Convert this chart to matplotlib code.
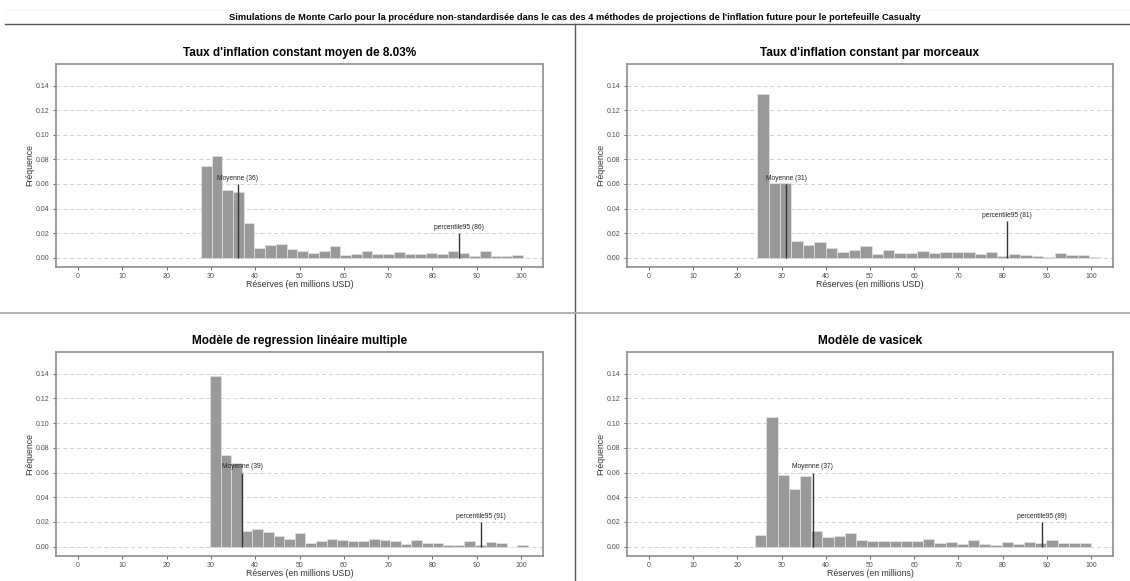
import matplotlib
matplotlib.use("Agg")
import matplotlib.pyplot as plt
import numpy as np
from matplotlib.lines import Line2D

plt.rcParams['font.family'] = ['Liberation Sans', 'DejaVu Sans']

suptitle = ("Simulations de Monte Carlo pour la procédure non-standardisée dans le cas des "
            "4 méthodes de projections de l'inflation future pour le portefeuille Casualty")

titles = ["Taux d'inflation constant moyen de 8.03%",
          "Taux d'inflation constant par morceaux",
          "Modèle de regression linéaire multiple",
          "Modèle de vasicek"]
xlabels = ["Réserves (en millions USD)", "Réserves (en millions USD)",
           "Réserves (en millions USD)", "Réserves (en millions)"]

# histogram bins: first edge, bin width, frequencies (30 bins each)
bin_start = [27.7, 24.45, 29.8, 24.0]
bin_width = [2.424, 2.59, 2.394, 2.536]

freq_const = [0.0743, 0.0830, 0.0553, 0.0534, 0.0282, 0.0081, 0.0106, 0.0114, 0.0071, 0.0054,
              0.0038, 0.0054, 0.0095, 0.0024, 0.0027, 0.0054, 0.0027, 0.0033, 0.0049, 0.0033,
              0.0033, 0.0038, 0.0033, 0.0054, 0.0038, 0.0011, 0.0054, 0.0014, 0.0016, 0.0022]
freq_morceaux = [0.1330, 0.0605, 0.0605, 0.0140, 0.0100, 0.0130, 0.0081, 0.0049, 0.0060, 0.0092,
                 0.0027, 0.0060, 0.0038, 0.0038, 0.0057, 0.0038, 0.0046, 0.0049, 0.0046, 0.0033,
                 0.0049, 0.0014, 0.0033, 0.0022, 0.0016, 0.0005, 0.0041, 0.0022, 0.0022, 0.0005]
freq_regression = [0.1380, 0.0740, 0.0680, 0.0130, 0.0145, 0.0120, 0.0090, 0.0065, 0.0110, 0.0030,
                   0.0050, 0.0060, 0.0055, 0.0050, 0.0045, 0.0065, 0.0055, 0.0045, 0.0020, 0.0055,
                   0.0030, 0.0030, 0.0015, 0.0010, 0.0050, 0.0010, 0.0035, 0.0030, 0.0000, 0.0015]
freq_vasicek = [0.0095, 0.1050, 0.0580, 0.0470, 0.0570, 0.0130, 0.0075, 0.0085, 0.0115, 0.0055,
                0.0050, 0.0045, 0.0050, 0.0045, 0.0045, 0.0060, 0.0030, 0.0035, 0.0020, 0.0055,
                0.0020, 0.0010, 0.0035, 0.0020, 0.0035, 0.0030, 0.0055, 0.0030, 0.0030, 0.0030]
freqs = [freq_const, freq_morceaux, freq_regression, freq_vasicek]

# mean / 95th percentile markers: x position, line height, label
mean_x = [36, 31, 37, 37]
mean_h = [0.06, 0.06, 0.06, 0.06]
mean_lab = ["Moyenne (36)", "Moyenne (31)", "Moyenne (39)", "Moyenne (37)"]
pct_x = [86, 81, 91, 89]
pct_h = [0.02, 0.03, 0.02, 0.02]
pct_lab = ["percentile95 (86)", "percentile95 (81)", "percentile95 (91)", "percentile95 (89)"]

W, H = 1130, 581
fig = plt.figure(figsize=(W / 100, H / 100), dpi=100)

# panel boxes in pixels: left, top, right, bottom
boxes = [(56, 64, 543, 267), (627, 64, 1113, 267),
         (56, 352, 543, 556), (627, 352, 1113, 556)]

for i in range(4):
    l, t, r, b = boxes[i]
    ax = fig.add_axes([l / W, 1 - b / H, (r - l) / W, (b - t) / H])
    edges = bin_start[i] + bin_width[i] * np.arange(len(freqs[i]))
    ax.bar(edges, freqs[i], width=bin_width[i], align='edge',
           color='#999999', edgecolor='#e4e4e4', linewidth=0.5, zorder=2)
    ax.set_xlim(-5, 105)
    ax.set_ylim(-0.0075, 0.1575)
    ax.set_xticks(np.arange(0, 101, 10))
    ax.set_yticks(np.arange(0, 0.141, 0.02))
    ax.set_yticklabels(["%.2f" % v for v in np.arange(0, 0.141, 0.02)])
    ax.grid(axis='y', color='#d0d0d0', linestyle=(0, (4, 3)), linewidth=0.7, zorder=0)
    ax.tick_params(labelsize=5.0, colors='#4d4d4d', length=2.5, width=0.6, pad=2)
    for s in ax.spines.values():
        s.set_color('#8c8c8c')
        s.set_linewidth(1.2)
    ax.set_title(titles[i], fontsize=8.5, fontweight='bold', pad=6)
    ax.set_xlabel(xlabels[i], fontsize=6.3, color='#333333', labelpad=0)
    ax.set_ylabel("Fréquence", fontsize=6.3, color='#333333', labelpad=1)

    ax.vlines(mean_x[i], 0, mean_h[i], color='#333333', linewidth=1.0, zorder=3)
    ax.annotate(mean_lab[i], xy=(mean_x[i], mean_h[i]), xytext=(0, 1.5),
                textcoords='offset points', ha='center', va='bottom',
                fontsize=4.8, color='#222222', zorder=4)
    ax.vlines(pct_x[i], 0, pct_h[i], color='#333333', linewidth=1.0, zorder=3)
    ax.annotate(pct_lab[i], xy=(pct_x[i], pct_h[i]), xytext=(0, 1.5),
                textcoords='offset points', ha='center', va='bottom',
                fontsize=4.8, color='#222222', zorder=4)

# overall title and separators
fig.text(575 / W, 1 - 17 / H, suptitle, ha='center', va='center',
         fontsize=6.7, fontweight='bold')
fig.add_artist(Line2D([5 / W, 1], [1 - 24 / H] * 2, color='#555555', linewidth=1.0))
fig.add_artist(Line2D([5 / W, 1], [1 - 10 / H] * 2, color='#f4f4f4', linewidth=0.8))
fig.add_artist(Line2D([575 / W] * 2, [0, 1 - 24 / H], color='#555555', linewidth=1.0))
fig.add_artist(Line2D([0, 1], [1 - 313 / H] * 2, color='#aaaaaa', linewidth=1.3))

fig.savefig("out.png", dpi=100)
